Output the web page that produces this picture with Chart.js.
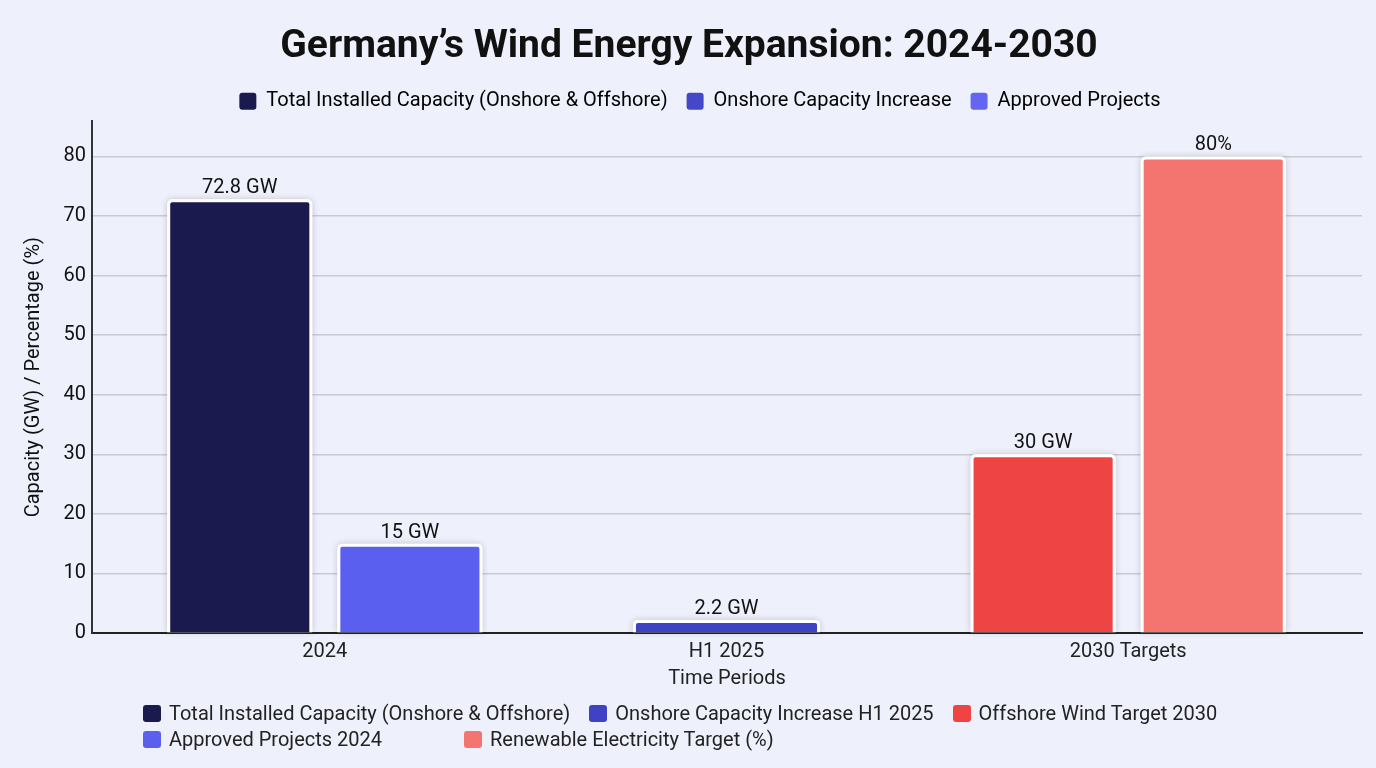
<!DOCTYPE html>
<html>
<head>
<meta charset="utf-8">
<script src="https://cdn.jsdelivr.net/npm/chart.js@4.4.1/dist/chart.umd.min.js"></script>
<style>
  html, body { margin: 0; padding: 0; background: #eef1fb; }
  #wrap { position: relative; width: 1376px; height: 768px; }
  #windChart { position: absolute; left: 0; top: 0; }
  #bottomLegend { position: absolute; left: 143px; top: 700px; font: 20px Roboto, sans-serif; color: #222; }
  .row { display: flex; align-items: center; height: 26px; white-space: nowrap; }
  .row1 { gap: 19px; }
  .row2 { gap: 82px; }
  .item { display: flex; align-items: center; }
  .swatch { width: 18px; height: 17px; border-radius: 3px; margin-right: 8px; }
</style>
</head>
<body>
<div id="wrap">
  <canvas id="windChart" width="1376" height="768"></canvas>
  <div id="bottomLegend"></div>
</div>
<script>
const periods = ['2024', 'H1 2025', '2030 Targets'];

const totalInstalled = [72.8, null, null];
const onshoreIncrease = [null, 2.2, null];
const offshoreTarget = [null, null, 30];
const approvedProjects = [15, null, null];
const renewableTarget = [null, null, 80];

const seriesNames = [
  'Total Installed Capacity (Onshore & Offshore)',
  'Onshore Capacity Increase H1 2025',
  'Offshore Wind Target 2030',
  'Approved Projects 2024',
  'Renewable Electricity Target (%)'
];
const valueUnits = [' GW', ' GW', ' GW', ' GW', '%'];
const seriesColors = ['#1a1a4e', '#3f42c4', '#ee4444', '#5a5ff0', '#f4746f'];

const topLegendNames = ['Total Installed Capacity (Onshore & Offshore)', 'Onshore Capacity Increase', 'Approved Projects'];
const topLegendColors = ['#1a1a4e', '#4347c8', '#6366f1'];

const yTicks = [0, 10, 20, 30, 40, 50, 60, 70, 80];

const FONT = 'Roboto, sans-serif';

// one bar per dataset; the H1 2025 bar is narrower
const seriesData = [totalInstalled, onshoreIncrease, offshoreTarget, approvedProjects, renewableTarget];
const datasets = seriesData.map((d, i) => ({
  label: seriesNames[i],
  data: d,
  backgroundColor: seriesColors[i],
  borderColor: '#ffffff',
  borderWidth: 3,
  borderRadius: 5,
  borderSkipped: 'bottom',
  categoryPercentage: 0.847,
  barPercentage: i === 1 ? 0.55 : 0.853
}));

// push the categories in from the axis edges, nudge the legend right
const shiftLayout = {
  id: 'shiftLayout',
  afterLayout(chart) {
    const x = chart.scales.x;
    x._startPixel = x.left + 32;
    x._endPixel = x.right - 33;
    x._length = x._endPixel - x._startPixel;
    chart.legend.left += 11;
    chart.legend.right += 11;
  }
};

const barShadow = {
  id: 'barShadow',
  beforeDatasetsDraw(chart) {
    const ctx = chart.ctx;
    ctx.save();
    ctx.shadowColor = 'rgba(30, 30, 60, 0.22)';
    ctx.shadowBlur = 6;
    ctx.fillStyle = '#ffffff';
    chart.data.datasets.forEach((ds, i) => {
      chart.getDatasetMeta(i).data.forEach((bar, j) => {
        if (ds.data[j] == null) return;
        ctx.beginPath();
        ctx.roundRect(bar.x - bar.width / 2, bar.y, bar.width, bar.base - bar.y, [5, 5, 0, 0]);
        ctx.fill();
      });
    });
    ctx.restore();
  }
};

const valueLabels = {
  id: 'valueLabels',
  afterDatasetsDraw(chart) {
    const ctx = chart.ctx;
    ctx.save();
    ctx.font = '20px ' + FONT;
    ctx.fillStyle = '#111';
    ctx.textAlign = 'center';
    ctx.textBaseline = 'alphabetic';
    chart.data.datasets.forEach((ds, i) => {
      chart.getDatasetMeta(i).data.forEach((bar, j) => {
        const v = ds.data[j];
        if (v == null) return;
        ctx.fillText(v + valueUnits[i], bar.x, bar.y - 6);
      });
    });
    ctx.restore();
  }
};

new Chart(document.getElementById('windChart'), {
  type: 'bar',
  data: { labels: periods, datasets: datasets },
  plugins: [shiftLayout, barShadow, valueLabels],
  options: {
    responsive: false,
    animation: false,
    skipNull: true,
    layout: { padding: { left: 16, right: 14, top: 0, bottom: 77 } },
    plugins: {
      title: {
        display: true,
        text: 'Germany\u2019s Wind Energy Expansion: 2024-2030',
        color: '#111',
        font: { family: FONT, size: 39, weight: 'bold' },
        padding: { top: 24, bottom: 1.5 }
      },
      legend: {
        position: 'top',
        labels: {
          color: '#222',
          font: { family: FONT, size: 20 },
          boxWidth: 17,
          boxHeight: 17,
          padding: 19,
          useBorderRadius: true,
          borderRadius: 3,
          generateLabels: () => topLegendNames.map((name, i) => ({
            text: name,
            fillStyle: topLegendColors[i],
            strokeStyle: topLegendColors[i],
            lineWidth: 0,
            borderRadius: 3,
            hidden: false,
            datasetIndex: i
          }))
        },
        onClick: () => {}
      },
      tooltip: { enabled: false }
    },
    scales: {
      x: {
        grid: { display: false, drawTicks: false },
        border: { display: true, color: '#222', width: 2 },
        ticks: { color: '#222', font: { family: FONT, size: 20 }, padding: 7 },
        title: { display: true, text: 'Time Periods', color: '#222', font: { family: FONT, size: 20 }, padding: { top: -4, bottom: 0 } }
      },
      y: {
        min: 0,
        max: 85.9,
        afterBuildTicks: axis => { axis.ticks = yTicks.map(v => ({ value: v })); },
        afterFit: axis => { axis.width = 76; },
        grid: { color: '#c8cad4', lineWidth: 1.5, drawTicks: false },
        border: { display: true, color: '#333', width: 2 },
        ticks: { color: '#111', font: { family: FONT, size: 20 }, padding: 6 },
        title: { display: true, text: 'Capacity (GW) / Percentage (%)', color: '#111', font: { family: FONT, size: 20 }, padding: { top: 6, bottom: 0 } }
      }
    }
  }
});

// lower legend, two rows as in the reference
const legendRows = [[0, 1, 2], [3, 4]];
const bottomLegend = document.getElementById('bottomLegend');
legendRows.forEach((row, r) => {
  const rowEl = document.createElement('div');
  rowEl.className = 'row row' + (r + 1);
  row.forEach(i => {
    const item = document.createElement('span');
    item.className = 'item';
    const sw = document.createElement('span');
    sw.className = 'swatch';
    sw.style.background = seriesColors[i];
    item.appendChild(sw);
    item.appendChild(document.createTextNode(seriesNames[i]));
    rowEl.appendChild(item);
  });
  bottomLegend.appendChild(rowEl);
});
</script>
</body>
</html>
